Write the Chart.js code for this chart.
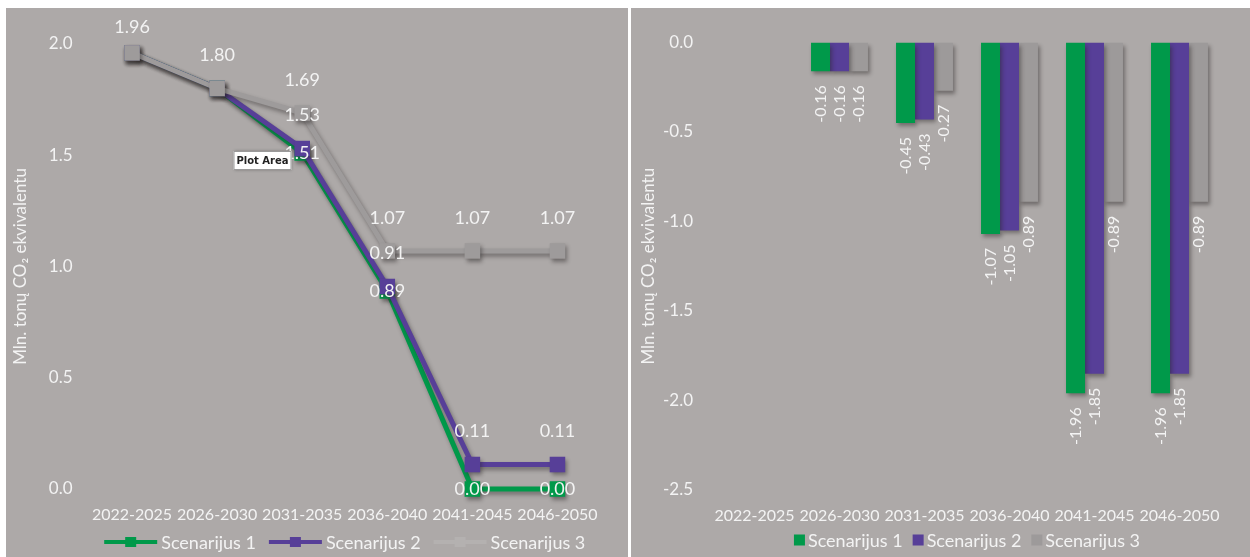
<!DOCTYPE html>
<html>
<head>
<meta charset="utf-8">
<script src="https://cdn.jsdelivr.net/npm/chart.js@4.4.1/dist/chart.umd.min.js"></script>
<style>
  body { margin: 0; background: #fff; width: 1250px; height: 557px; position: relative; overflow: hidden; }
  .panel { position: absolute; top: 8px; height: 549px; background: #ada9a8; }
  #left { left: 6px; width: 622px; }
  #right { left: 631px; width: 619px; }
</style>
</head>
<body>
<div class="panel" id="left"><canvas id="lineChart"></canvas></div>
<div class="panel" id="right"><canvas id="barChart"></canvas></div>
<script>
// periods on both x axes
const periods = ["2022-2025", "2026-2030", "2031-2035", "2036-2040", "2041-2045", "2046-2050"];
const scenarioNames = ["Scenarijus 1", "Scenarijus 2", "Scenarijus 3"];
const axisTitle = "Mln. tonų CO₂ ekvivalentu";

// left chart: emissions (Mln. t CO2 eq.)
const emissions1 = [1.96, 1.80, 1.51, 0.89, 0.00, 0.00];
const emissions2 = [1.96, 1.80, 1.53, 0.91, 0.11, 0.11];
const emissions3 = [1.96, 1.80, 1.69, 1.07, 1.07, 1.07];
const leftTicks = [0.0, 0.5, 1.0, 1.5, 2.0];

// right chart: change
const change1 = [null, -0.16, -0.45, -1.07, -1.96, -1.96];
const change2 = [null, -0.16, -0.43, -1.05, -1.85, -1.85];
const change3 = [null, -0.16, -0.27, -0.89, -0.89, -0.89];
const rightTicks = [-2.5, -2.0, -1.5, -1.0, -0.5, 0.0];

const GREEN = '#00994a';
const PURPLE = '#573f98';
const GREY = '#9e9b9b';
const TEXT = '#f3f3f3';
const FONT = 'Lato';

// Excel-like drop shadow under the marks
const shadow = {
  id: 'shadow',
  beforeDatasetsDraw(chart) {
    const ctx = chart.ctx;
    ctx.save();
    ctx.shadowColor = 'rgba(40,35,35,0.45)';
    ctx.shadowBlur = 4;
    ctx.shadowOffsetX = 2;
    ctx.shadowOffsetY = 3;
  },
  afterDatasetsDraw(chart) {
    chart.ctx.restore();
  }
};

// legend drawn under the x axis, centred on the plot area
const bottomLegend = {
  id: 'bottomLegend',
  afterDraw(chart, args, opts) {
    const ctx = chart.ctx;
    const ds = chart.data.datasets;
    ctx.save();
    ctx.font = '18px ' + FONT;
    const symW = opts.lineSymbol ? 53 : 11;
    const widths = ds.map(d => symW + opts.gap + ctx.measureText(d.label).width);
    const total = widths.reduce((a, b) => a + b, 0) + opts.spacing * (ds.length - 1);
    let x = (chart.chartArea.left + chart.chartArea.right) / 2 - total / 2;
    const y = opts.y;
    ds.forEach((d, i) => {
      const c = d.legendColor || d.borderColor;
      if (opts.lineSymbol) {
        ctx.strokeStyle = c;
        ctx.lineWidth = 4;
        ctx.beginPath();
        ctx.moveTo(x, y);
        ctx.lineTo(x + symW, y);
        ctx.stroke();
        ctx.fillStyle = c;
        ctx.fillRect(x + symW / 2 - 5.5, y - 5, 11, 10);
      } else {
        ctx.fillStyle = d.backgroundColor;
        ctx.fillRect(x, y - 5.5, 11, 11);
      }
      ctx.fillStyle = TEXT;
      ctx.textAlign = 'left';
      ctx.textBaseline = 'middle';
      ctx.fillText(d.label, x + symW + opts.gap, y + 1);
      x += widths[i] + opts.spacing;
    });
    ctx.restore();
  }
};

// value labels on the line chart
const lineLabels = {
  id: 'lineLabels',
  afterDraw(chart) {
    const ctx = chart.ctx;
    const sets = chart.data.datasets;
    ctx.save();
    ctx.font = '18px ' + FONT;
    ctx.fillStyle = TEXT;
    ctx.textAlign = 'center';
    ctx.textBaseline = 'middle';
    sets.forEach((ds, i) => {
      const meta = chart.getDatasetMeta(i);
      meta.data.forEach((pt, j) => {
        const v = ds.data[j];
        if (v == null) return;
        if (sets.slice(i + 1).some(o => o.data[j] === v)) return;
        const y = Math.max(pt.y - ds.labelLift, chart.chartArea.top - 17);
        ctx.fillText(v.toFixed(2), pt.x, y);
      });
    });
    // Excel hover tip left in the screenshot
    const bx = chart.chartArea.left + 144, by = chart.chartArea.top + 107;
    ctx.shadowColor = 'rgba(0,0,0,0.3)';
    ctx.shadowBlur = 3;
    ctx.fillStyle = '#ffffff';
    ctx.fillRect(bx, by, 58, 19);
    ctx.shadowColor = 'transparent';
    ctx.strokeStyle = '#9a9a9a';
    ctx.lineWidth = 1;
    ctx.strokeRect(bx + 0.5, by + 0.5, 57, 18);
    ctx.fillStyle = '#222';
    ctx.font = 'bold 10px "DejaVu Sans"';
    ctx.fillText('Plot Area', bx + 29, by + 10);
    ctx.restore();
  }
};

// rotated value labels below the bars
const barLabels = {
  id: 'barLabels',
  afterDraw(chart) {
    const ctx = chart.ctx;
    ctx.save();
    ctx.font = '16px ' + FONT;
    ctx.fillStyle = TEXT;
    ctx.textAlign = 'right';
    ctx.textBaseline = 'middle';
    chart.data.datasets.forEach((ds, i) => {
      chart.getDatasetMeta(i).data.forEach((bar, j) => {
        const v = ds.data[j];
        if (v == null) return;
        ctx.save();
        ctx.translate(bar.x, bar.y + 14);
        ctx.rotate(-Math.PI / 2);
        ctx.fillText(v.toFixed(2), 0, 0);
        ctx.restore();
      });
    });
    ctx.restore();
  }
};

function yAxis(ticks, width, titlePad, tickPad) {
  return {
    min: ticks[0],
    max: ticks[ticks.length - 1],
    afterBuildTicks: s => { s.ticks = ticks.map(v => ({ value: v })); },
    afterFit: s => { s.width = width; },
    grid: { display: false, drawTicks: false },
    border: { display: false },
    ticks: {
      color: TEXT,
      padding: tickPad,
      font: { family: FONT, size: 17 },
      callback: v => Number(v).toFixed(1)
    },
    title: {
      display: true,
      text: axisTitle,
      color: TEXT,
      padding: { top: titlePad, bottom: 0 },
      font: { family: FONT, size: 17 }
    }
  };
}

function xAxis(h) {
  return {
    offset: true,
    afterFit: s => { s.height = h; },
    grid: { display: false, drawTicks: false },
    border: { display: false },
    ticks: {
      color: TEXT,
      padding: 16,
      maxRotation: 0,
      autoSkip: false,
      font: { family: FONT, size: 16 }
    }
  };
}

const lineSeries = [emissions1, emissions2, emissions3];
const lineColors = [GREEN, PURPLE, GREY];
const lineLift = [0, 33, 33];

new Chart(document.getElementById('lineChart'), {
  type: 'line',
  data: {
    labels: periods,
    datasets: lineSeries.map((d, i) => ({
      label: scenarioNames[i],
      data: d,
      borderColor: lineColors[i],
      backgroundColor: lineColors[i],
      legendColor: i === 2 ? '#b4b1b0' : lineColors[i],
      borderWidth: 5,
      pointStyle: 'rect',
      pointRadius: 11,
      pointBorderWidth: 0,
      tension: 0,
      clip: false,
      order: 2 - i,
      labelLift: lineLift[i]
    }))
  },
  options: {
    responsive: true,
    maintainAspectRatio: false,
    animation: false,
    layout: { padding: { left: 0, right: 28, top: 36, bottom: 0 } },
    plugins: {
      legend: { display: false },
      tooltip: { enabled: false },
      bottomLegend: { lineSymbol: true, gap: 4, spacing: 13, y: 534 }
    },
    scales: {
      x: xAxis(68),
      y: yAxis(leftTicks, 83.5, 4, 17)
    }
  },
  plugins: [shadow, lineLabels, bottomLegend]
});

const barSeries = [change1, change2, change3];
const barColors = [GREEN, PURPLE, '#9d9a9a'];

new Chart(document.getElementById('barChart'), {
  type: 'bar',
  data: {
    labels: periods,
    datasets: barSeries.map((d, i) => ({
      label: scenarioNames[i],
      data: d,
      backgroundColor: barColors[i],
      borderWidth: 0,
      categoryPercentage: 0.67,
      barPercentage: 1.0
    }))
  },
  options: {
    responsive: true,
    maintainAspectRatio: false,
    animation: false,
    layout: { padding: { left: 0, right: 28, top: 34.5, bottom: 0 } },
    plugins: {
      legend: { display: false },
      tooltip: { enabled: false },
      bottomLegend: { lineSymbol: false, gap: 3, spacing: 10, y: 532 }
    },
    scales: {
      x: xAxis(67),
      y: yAxis(rightTicks, 81, 7, 19)
    }
  },
  plugins: [shadow, barLabels, bottomLegend]
});
</script>
</body>
</html>
